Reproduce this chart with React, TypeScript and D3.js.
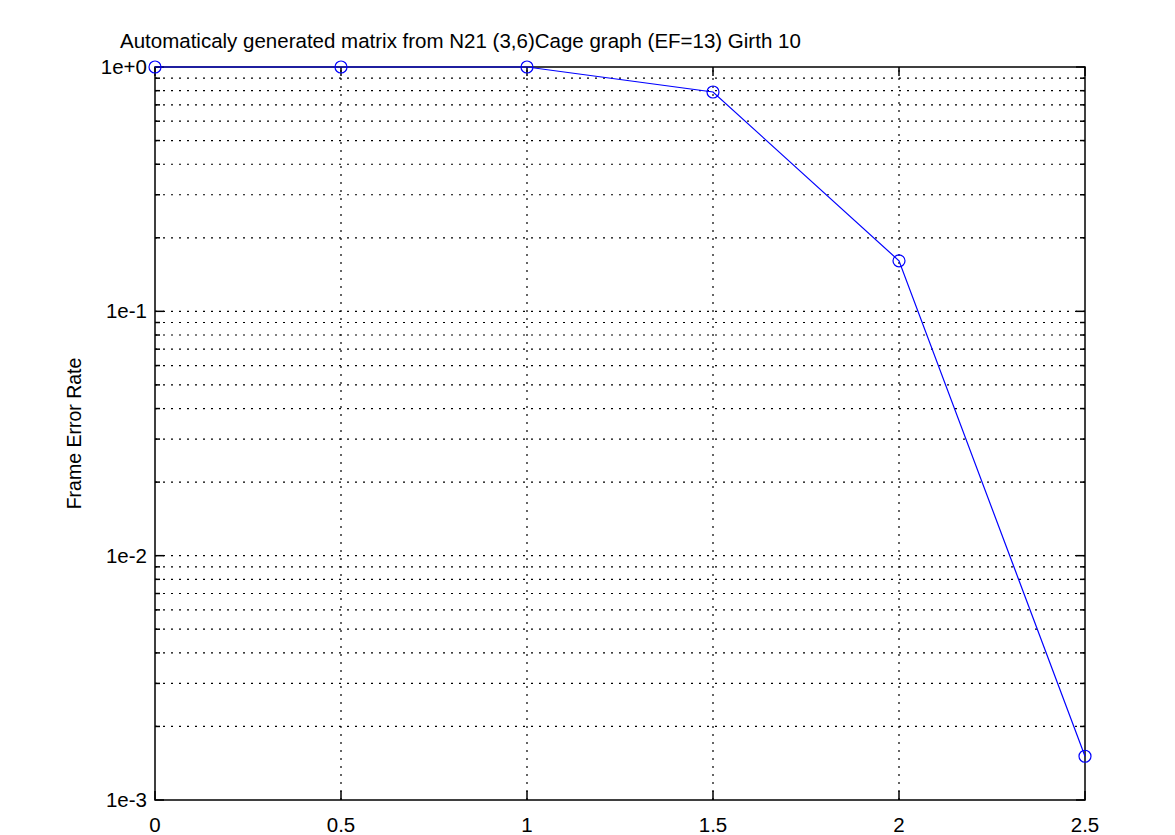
import React from "react";
import * as d3 from "d3";

const width = 1175;
const height = 835;
const margin = { top: 67, right: 90, bottom: 35, left: 155 };

const title = "Automaticaly generated matrix from N21 (3,6)Cage graph (EF=13) Girth 10";
const yLabel = "Frame Error Rate";

// SNR points and measured frame error rate
const snr = [0, 0.5, 1, 1.5, 2, 2.5];
const fer = [1.0, 1.0, 1.0, 0.79, 0.161, 0.00151];

const xTicks = [0, 0.5, 1, 1.5, 2, 2.5];
const xTickLabels = ["0", "0.5", "1", "1.5", "2", "2.5"];
const yTicks = [1, 0.1, 0.01, 0.001];
const yTickLabels = ["1e+0", "1e-1", "1e-2", "1e-3"];

const font = "'Liberation Sans', Arial, Helvetica, sans-serif";

export default function App() {
  const x = d3.scaleLinear().domain([0, 2.5]).range([margin.left, width - margin.right]);
  const y = d3.scaleLog().domain([0.001, 1]).range([height - margin.bottom, margin.top]);

  const x0 = x.range()[0];
  const x1 = x.range()[1];
  const y0 = y.range()[0];
  const y1 = y.range()[1];

  // minor log ticks 2..9 in each decade
  const minor: number[] = [];
  [0.001, 0.01, 0.1].forEach(d => {
    for (let k = 2; k <= 9; k++) minor.push(d * k);
  });
  const allY = [...yTicks, ...minor];

  const line = d3.line<number>()
    .x((_, i) => x(snr[i]))
    .y(d => y(d));

  return (
    <svg width={width} height={height} style={{ position: "absolute", left: 0, top: 0, background: "#fff" }}>
      <rect width={width} height={height} fill="#fff" />
      {/* grid */}
      {allY.filter(v => v > 0.001 && v < 1).map((v, i) => (
        <line key={"gy" + i} x1={x0} x2={x1} y1={y(v)} y2={y(v)}
          stroke="#000" strokeWidth={1.2} strokeDasharray="2,6" />
      ))}
      {xTicks.filter(v => v > 0 && v < 2.5).map((v, i) => (
        <line key={"gx" + i} x1={x(v)} x2={x(v)} y1={y0} y2={y1}
          stroke="#000" strokeWidth={1.2} strokeDasharray="2,6" />
      ))}
      {/* ticks */}
      {xTicks.map((v, i) => (
        <g key={"tx" + i}>
          <line x1={x(v)} x2={x(v)} y1={y0} y2={y0 - 9} stroke="#000" strokeWidth={1.5} />
          <line x1={x(v)} x2={x(v)} y1={y1} y2={y1 + 9} stroke="#000" strokeWidth={1.5} />
          <text x={x(v)} y={y0 + 32} textAnchor="middle" fontFamily={font} fontSize={20.5} fill="#000">
            {xTickLabels[i]}
          </text>
        </g>
      ))}
      {allY.map((v, i) => {
        const len = yTicks.includes(v) ? 9 : 5;
        return (
          <g key={"ty" + i}>
            <line x1={x0} x2={x0 + len} y1={y(v)} y2={y(v)} stroke="#000" strokeWidth={1.5} />
            <line x1={x1} x2={x1 - len} y1={y(v)} y2={y(v)} stroke="#000" strokeWidth={1.5} />
          </g>
        );
      })}
      {yTicks.map((v, i) => (
        <text key={"ly" + i} x={x0 - 8} y={y(v) + 7} textAnchor="end" fontFamily={font} fontSize={20.5} fill="#000">
          {yTickLabels[i]}
        </text>
      ))}
      {/* frame */}
      <rect x={x0} y={y1} width={x1 - x0} height={y0 - y1} fill="none" stroke="#000" strokeWidth={1.5} />
      {/* data */}
      <path d={line(fer) || ""} fill="none" stroke="#0000ff" strokeWidth={1.2} />
      {fer.map((v, i) => (
        <circle key={"p" + i} cx={x(snr[i])} cy={y(v)} r={6} fill="none" stroke="#0000ff" strokeWidth={1.2} />
      ))}
      {/* labels */}
      <text x={120} y={48} fontFamily={font} fontSize={20.5} fill="#000">{title}</text>
      <text transform={`translate(81,${(y0 + y1) / 2}) rotate(-90)`} textAnchor="middle"
        fontFamily={font} fontSize={19.5} fill="#000">{yLabel}</text>
    </svg>
  );
}
